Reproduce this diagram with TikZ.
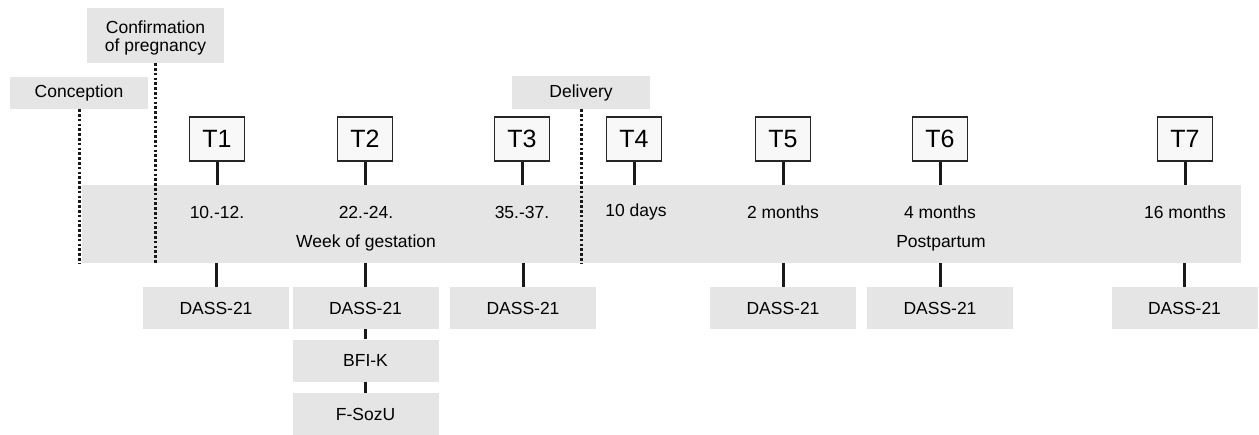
\documentclass[tikz,border=0pt]{standalone}
\usepackage{fontspec}
\setmainfont{Liberation Sans}
\definecolor{bandgray}{RGB}{229,229,229}
\definecolor{tfill}{RGB}{248,248,248}
\tikzset{
  lbl/.style={fill=bandgray, inner sep=0pt, font=\fontsize{17.5}{21}\selectfont, align=center},
  tbox/.style={draw=black!85, fill=tfill, line width=1.3pt, minimum width=55pt, minimum height=44pt, inner sep=0pt, font=\fontsize{25}{29}\selectfont},
  meas/.style={lbl, minimum width=146pt, minimum height=42pt},
  txt/.style={inner sep=0pt, font=\fontsize{17.5}{21}\selectfont},
  stem/.style={line width=3pt, black!90},
  dotline/.style={line width=3pt, black!90, dash pattern=on 2.6pt off 2.2pt},
}
\begin{document}
\begin{tikzpicture}[x=1pt,y=-1pt]
\useasboundingbox (0,0) rectangle (1259,434);
% band
\node[fill=bandgray, minimum width=1159pt, minimum height=78pt, inner sep=0pt] (band) at (661.5,224) {};
% event labels
\node[lbl, minimum width=138pt, minimum height=32pt] (conc) at (79,93) {Conception};
\node[lbl, minimum width=137pt, minimum height=55pt] (conf) at (155.5,35.5) {};
\node[txt] (conf1) at (155.5,27) {Confirmation};
\node[txt] (conf2) at (155.5,47) {of pregnancy};
\node[lbl, minimum width=138pt, minimum height=33pt] (deliv) at (581,92.5) {Delivery};
\draw[dotline] (conc.south) -- (conc.south |- band.south);
\draw[dotline] (conf.south) -- (conf.south |- band.south);
\draw[dotline] (deliv.south) -- (deliv.south |- band.south);
% T boxes
\foreach \n/\x in {1/217,2/365,3/522,4/634,5/783,6/940,7/1185}{
  \node[tbox] (T\n) at (\x,139) {T\n};
  \draw[stem] (T\n.south) -- (T\n.south |- band.north);
}
% band texts
\node[txt] (w1) at (217,212) {10.-12.};
\node[txt] (w2) at (366,212) {22.-24.};
\node[txt] (w3) at (522,212) {35.-37.};
\node[txt] (p4) at (636,212) {10 days};
\node[txt] (p5) at (783,212) {2 months};
\node[txt] (p6) at (940,212) {4 months};
\node[txt] (p7) at (1185,212) {16 months};
\node[txt] (wog) at (366,243) {Week of gestation};
\node[txt] (pp) at (941,243) {Postpartum};
% measurement boxes
\node[meas] (d1) at (216,308) {DASS-21};
\node[meas] (d2) at (365.5,308) {DASS-21};
\node[meas] (d3) at (523,308) {DASS-21};
\node[meas] (d5) at (783,308) {DASS-21};
\node[meas] (d6) at (940,308) {DASS-21};
\node[meas] (d7) at (1184.5,308) {DASS-21};
\node[meas] (bfi) at (365.5,360.5) {BFI-K};
\node[meas] (soz) at (365.5,414) {F-SozU};
\foreach \d in {d1,d2,d3,d5,d6,d7}{
  \draw[stem] (\d.north |- band.south) -- (\d.north);
}
\draw[stem] (d2.south) -- (bfi.north);
\draw[stem] (bfi.south) -- (soz.north);
\end{tikzpicture}
\end{document}
